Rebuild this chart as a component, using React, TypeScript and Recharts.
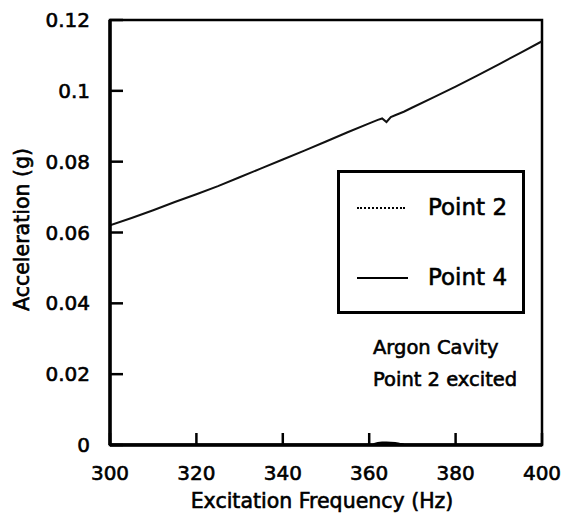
import React from 'react';
import { LineChart, Line, XAxis, YAxis, ReferenceArea, Legend, Label } from 'recharts';

const frequencies = [300, 305, 310, 315, 320, 325, 330, 335, 340, 345, 350, 355, 360, 361, 362, 363, 364, 365, 366, 367, 368, 370, 375, 380, 385, 390, 395, 400];
const point2Values = [0.0620, 0.0641, 0.0663, 0.0686, 0.0708, 0.0731, 0.0756, 0.0781, 0.0806, 0.0831, 0.0857, 0.0883, 0.0908, 0.0913, 0.0918, 0.0922, 0.0912, 0.0926, 0.0931, 0.0936, 0.0941, 0.0953, 0.0982, 0.1012, 0.1043, 0.1075, 0.1107, 0.1140];
const point4Values = [0, 0, 0, 0, 0, 0, 0, 0, 0, 0, 0, 0, 0, 0.0001, 0.0004, 0.0006, 0.0006, 0.0005, 0.0004, 0.0002, 0.0001, 0, 0, 0, 0, 0, 0, 0];
const xTicks = [300, 320, 340, 360, 380, 400];
const yTicks = [0, 0.02, 0.04, 0.06, 0.08, 0.1, 0.12];
const seriesNames = ['Point 2', 'Point 4'];
const annotationLines = ['Argon Cavity', 'Point 2 excited'];
const xTitle = 'Excitation Frequency (Hz)';
const yTitle = 'Acceleration (g)';

const data = frequencies.map((f, i) => ({ freq: f, p2: point2Values[i], p4: point4Values[i] }));

const FONT = '"DejaVu Sans", sans-serif';
const TS = 0.6;

const XTick = (props: any) => {
  const { x, y, payload } = props;
  return (
    <g>
      <line x1={x} x2={x} y1={y} y2={y - 12} stroke="#000" strokeWidth={2.5} />
      <text x={x} y={y + 35} textAnchor="middle" fontFamily={FONT} fontSize={20} fill="#000" stroke="#000" strokeWidth={TS}>
        {payload.value}
      </text>
    </g>
  );
};

const YTick = (props: any) => {
  const { x, y, payload } = props;
  return (
    <g>
      <line x1={x} x2={x + 13} y1={y} y2={y} stroke="#000" strokeWidth={2.5} />
      <text x={x - 20} y={y + 7} textAnchor="end" fontFamily={FONT} fontSize={20} fill="#000" stroke="#000" strokeWidth={TS}>
        {payload.value}
      </text>
    </g>
  );
};

const LegendBox = () => (
  <div
    style={{
      width: 188,
      height: 144,
      boxSizing: 'border-box',
      border: '3px solid #000',
      position: 'relative',
      fontFamily: FONT,
      fontSize: 23,
      color: '#000',
      background: '#fff',
      WebkitTextStroke: '0.6px #000',
    }}
  >
    {seriesNames.map((name, i) => (
      <div key={name} style={{ position: 'absolute', left: 0, top: i === 0 ? 19 : 89, width: '100%', height: 30 }}>
        <div
          style={{
            position: 'absolute',
            left: 17,
            top: 15,
            width: i === 0 ? 48 : 51,
            borderTop: i === 0 ? '2px dotted #000' : '2px solid #000',
          }}
        />
        <div style={{ position: 'absolute', left: 88, top: 0, lineHeight: '30px', whiteSpace: 'nowrap' }}>{name}</div>
      </div>
    ))}
  </div>
);

export default function App() {
  return (
    <div style={{ position: 'absolute', left: 0, top: 0, width: 568, height: 520, background: '#fff' }}>
      <LineChart
        width={568}
        height={520}
        data={data}
        margin={{ top: 20, right: 26, bottom: 45, left: 0 }}
      >
        <XAxis
          dataKey="freq"
          type="number"
          domain={[300, 400]}
          ticks={xTicks}
          tick={<XTick />}
          tickLine={false}
          tickSize={0}
          tickMargin={0}
          height={30}
          axisLine={{ stroke: '#000', strokeWidth: 3.5 }}
          allowDataOverflow
        >
          <Label
            content={(p: any) => {
              const vb = p.viewBox;
              return (
                <text x={vb.x + vb.width / 2 - 4} y={vb.y + 63} textAnchor="middle" fontFamily={FONT} fontSize={20.5} fill="#000" stroke="#000" strokeWidth={TS}>
                  {xTitle}
                </text>
              );
            }}
          />
        </XAxis>
        <YAxis
          type="number"
          domain={[0, 0.12]}
          ticks={yTicks}
          tick={<YTick />}
          tickLine={false}
          tickSize={0}
          tickMargin={0}
          width={110}
          axisLine={{ stroke: '#000', strokeWidth: 3.5 }}
          allowDataOverflow
        >
          <Label
            content={(p: any) => {
              const vb = p.viewBox;
              const cy = vb.y + vb.height / 2 - 3;
              return (
                <text x={28.5} y={cy} transform={`rotate(-90, 28.5, ${cy})`} textAnchor="middle" fontFamily={FONT} fontSize={20.5} fill="#000" stroke="#000" strokeWidth={TS}>
                  {yTitle}
                </text>
              );
            }}
          />
        </YAxis>
        <ReferenceArea x1={300} x2={400} y1={0} y2={0.12} fill="none" stroke="#000" strokeWidth={2.5} ifOverflow="extendDomain" />
        <Line type="linear" dataKey="p2" name={seriesNames[0]} stroke="#111" strokeWidth={2} dot={false} isAnimationActive={false} />
        <Line type="linear" dataKey="p4" name={seriesNames[1]} stroke="#000" strokeWidth={3} dot={false} isAnimationActive={false} />
        <Legend
          layout="vertical"
          align="center"
          verticalAlign="middle"
          content={<LegendBox />}
          wrapperStyle={{ position: 'absolute', left: 337, top: 170, width: 188, height: 144, bottom: 'auto', right: 'auto' }}
        />
      </LineChart>
      <div
        style={{
          position: 'absolute',
          left: 373,
          top: 332,
          fontFamily: FONT,
          fontSize: 19.5,
          lineHeight: '32px',
          color: '#000',
          whiteSpace: 'nowrap',
          WebkitTextStroke: '0.6px #000',
        }}
      >
        {annotationLines.map((l) => (
          <div key={l}>{l}</div>
        ))}
      </div>
    </div>
  );
}
